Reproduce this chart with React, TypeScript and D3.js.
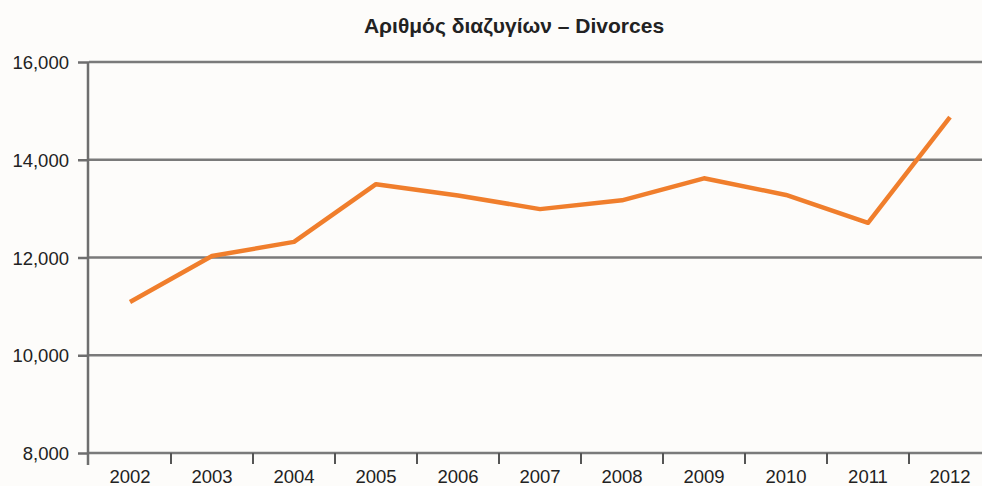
import React, { useEffect, useRef } from "react";
import * as d3 from "d3";

const years = ["2002", "2003", "2004", "2005", "2006", "2007", "2008", "2009", "2010", "2011", "2012"];
const divorces = [11090, 12030, 12320, 13500, 13270, 12990, 13170, 13620, 13280, 12710, 14870];
const yTicks = [8000, 10000, 12000, 14000, 16000];

const App: React.FC = () => {
	const svgRef = useRef<SVGSVGElement>(null);

	useEffect(() => {
		if (!svgRef.current) return;
		const svg = d3.select(svgRef.current);
		svg.selectAll("*").remove();

		const width = 982;
		const height = 486;
		const left = 89;
		const right = 991;
		const top = 62;
		const bottom = 453;
		const font = "'Liberation Sans', Arial, sans-serif";

		svg.append("rect").attr("width", width).attr("height", height).attr("fill", "#fdfcfa");

		const x = d3.scaleBand().domain(years).range([left, right]);
		const y = d3.scaleLinear().domain([8000, 16000]).range([bottom, top]);

		// y axis ticks and labels
		const yAxis = svg
			.append("g")
			.attr("transform", `translate(${left},0)`)
			.call(
				d3
					.axisLeft(y)
					.tickValues(yTicks)
					.tickSize(11)
					.tickPadding(9)
					.tickFormat((d) => d3.format(",")(d as number))
			);
		yAxis.select(".domain").remove();
		yAxis.selectAll("line").attr("stroke", "#6e6e6e").attr("stroke-width", 2.5);
		yAxis
			.selectAll("text")
			.attr("font-family", font)
			.attr("font-size", 18.5)
			.attr("dy", "0.36em")
			.attr("fill", "#222");

		// gridlines
		svg
			.append("g")
			.selectAll("line")
			.data(yTicks)
			.join("line")
			.attr("x1", left)
			.attr("x2", right)
			.attr("y1", (d) => y(d))
			.attr("y2", (d) => y(d))
			.attr("stroke", "#7a7a7a")
			.attr("stroke-width", 2.5);

		svg
			.append("line")
			.attr("x1", left - 1)
			.attr("x2", left - 1)
			.attr("y1", top)
			.attr("y2", bottom + 12)
			.attr("stroke", "#6e6e6e")
			.attr("stroke-width", 2.5);

		// x axis
		const xAxis = svg
			.append("g")
			.attr("transform", `translate(0,${bottom})`)
			.call(d3.axisBottom(x).tickSize(0).tickPadding(17));
		xAxis.select(".domain").remove();
		xAxis
			.selectAll("text")
			.attr("font-family", font)
			.attr("font-size", 18.5)
			.attr("fill", "#222");

		svg
			.append("g")
			.selectAll("line")
			.data(years.slice(1))
			.join("line")
			.attr("x1", (d) => x(d)!)
			.attr("x2", (d) => x(d)!)
			.attr("y1", bottom)
			.attr("y2", bottom + 11)
			.attr("stroke", "#555")
			.attr("stroke-width", 2);

		// series line
		const line = d3
			.line<number>()
			.x((_, i) => x(years[i])! + x.bandwidth() / 2)
			.y((d) => y(d));

		svg
			.append("path")
			.datum(divorces)
			.attr("d", line)
			.attr("fill", "none")
			.attr("stroke", "#f07e2c")
			.attr("stroke-width", 4.5)
			.attr("stroke-linejoin", "round");

		svg
			.append("text")
			.attr("x", 514)
			.attr("y", 33)
			.attr("text-anchor", "middle")
			.attr("font-family", font)
			.attr("font-size", 21)
			.attr("font-weight", "bold")
			.attr("fill", "#222")
			.text("Αριθμός διαζυγίων – Divorces");
	}, []);

	return (
		<svg
			ref={svgRef}
			width={982}
			height={486}
			style={{ position: "absolute", left: 0, top: 0 }}
		/>
	);
};

export default App;
